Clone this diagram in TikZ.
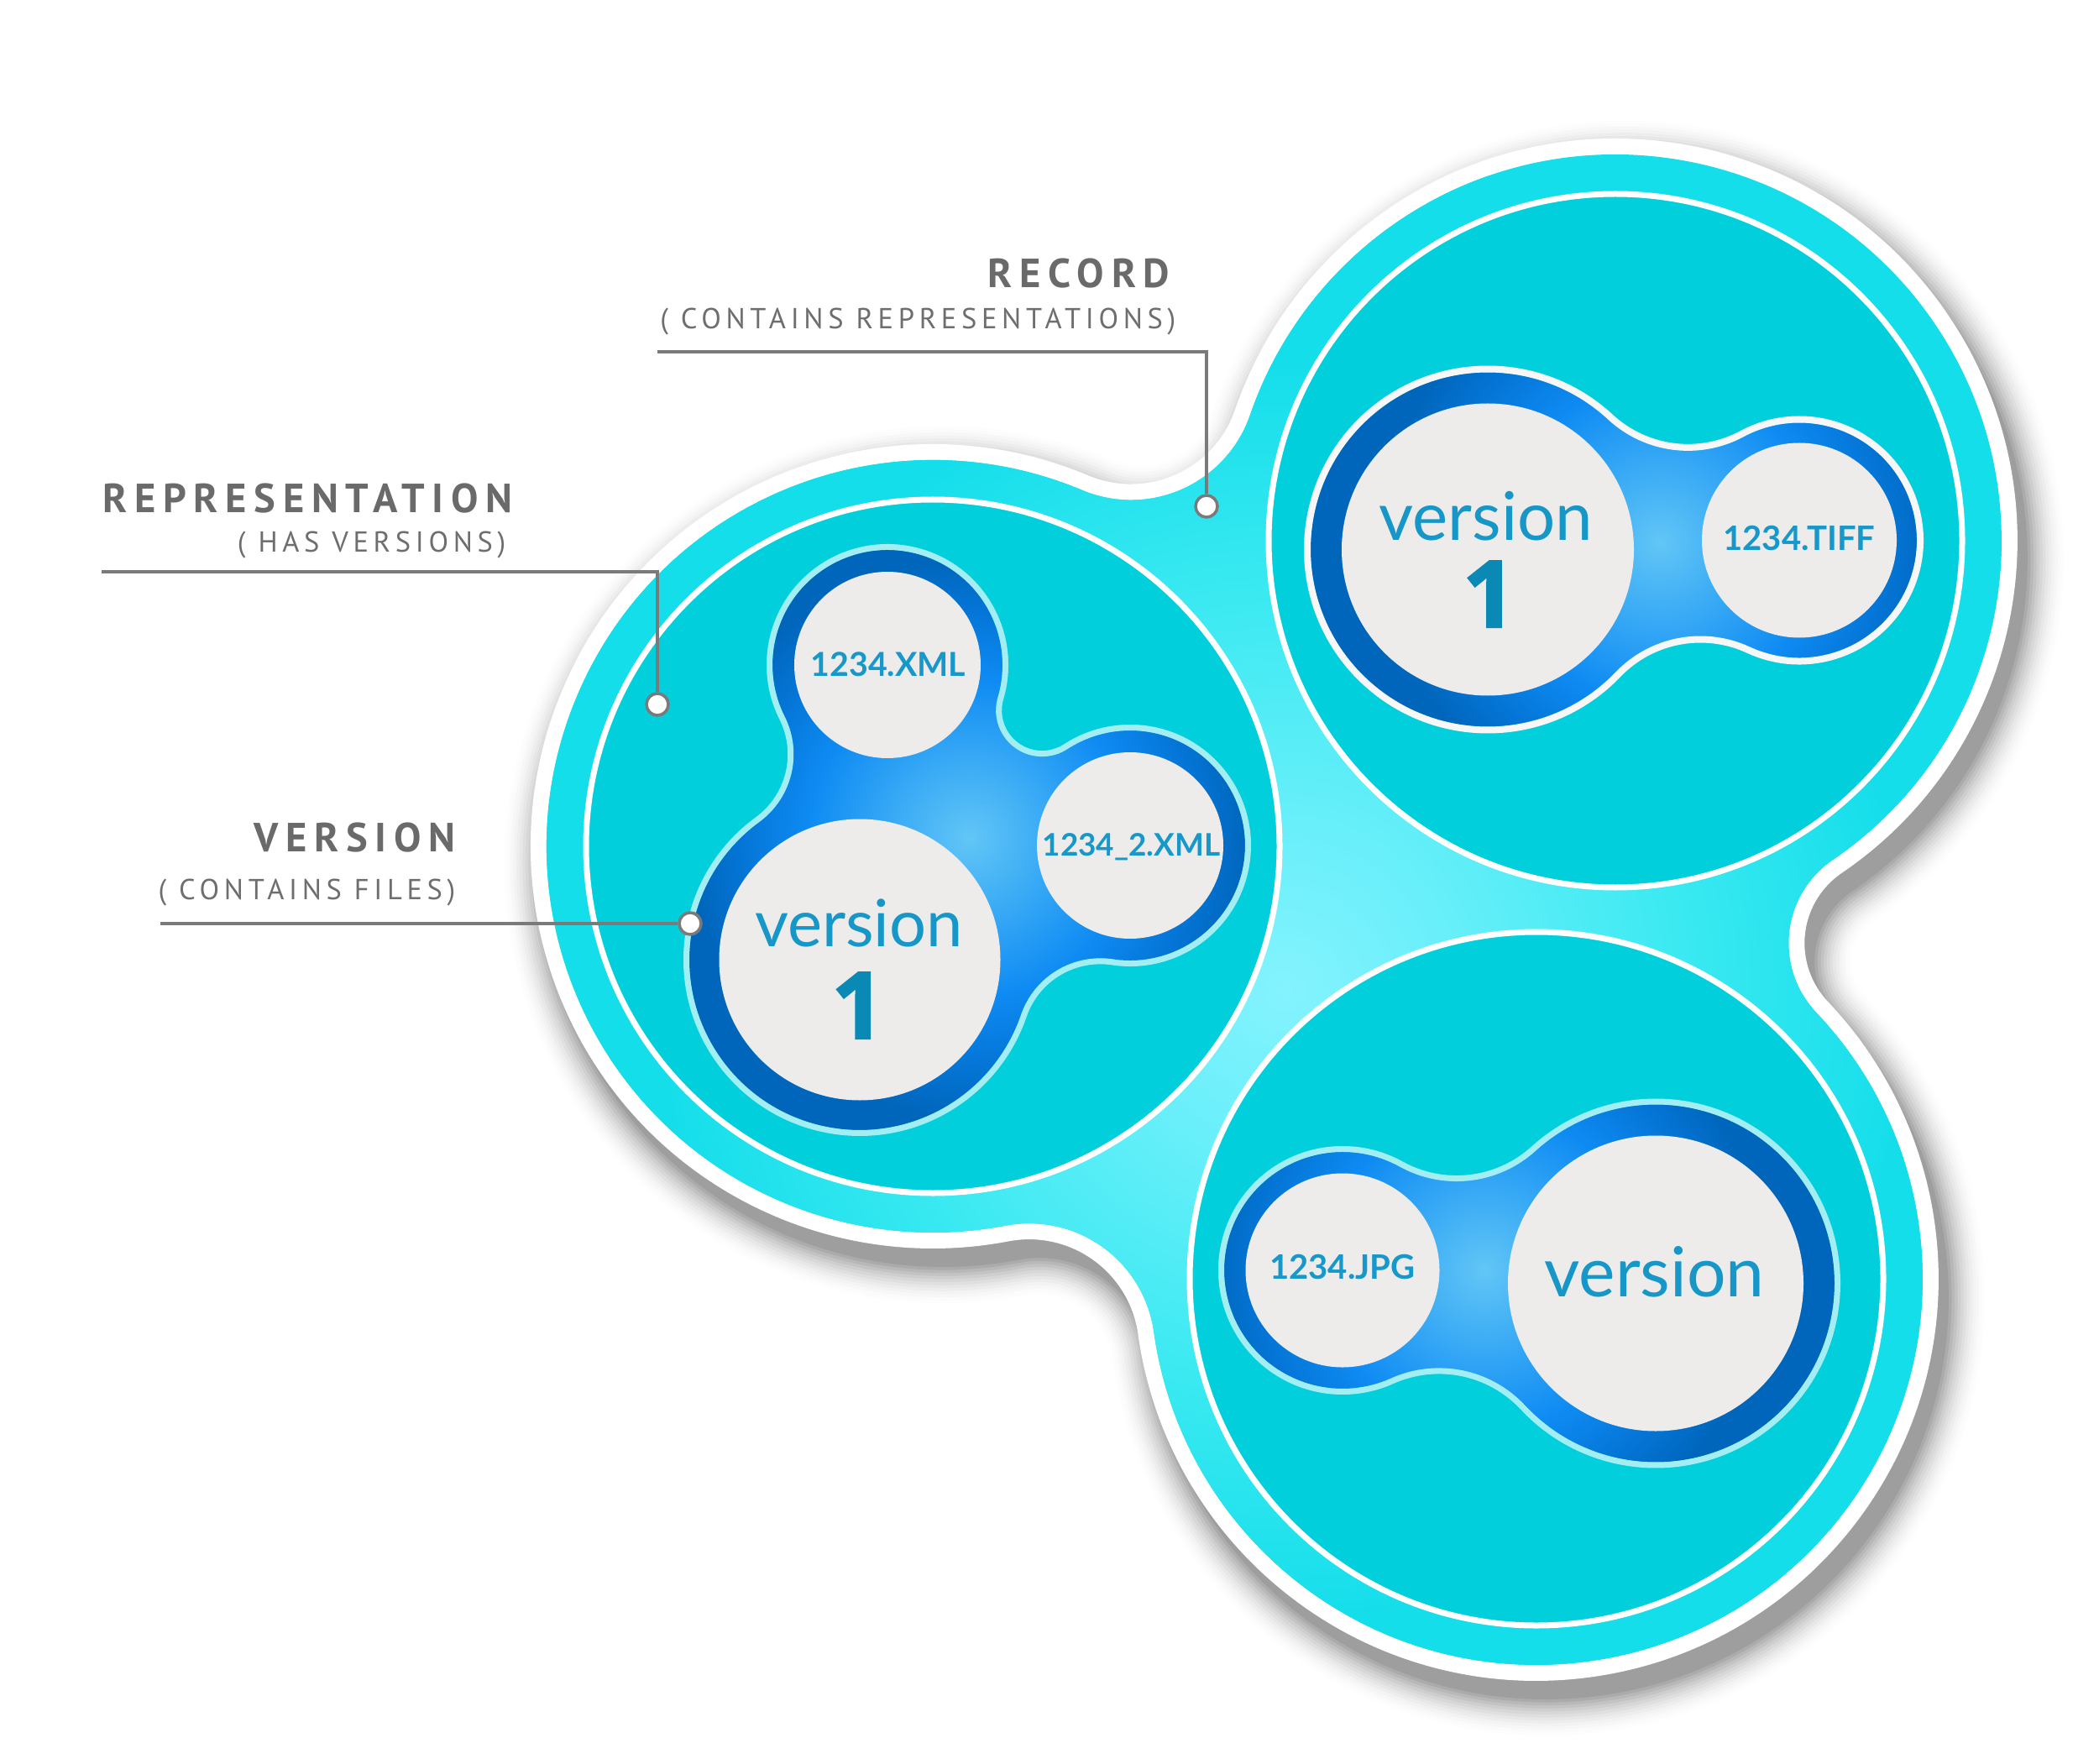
\documentclass[tikz,border=0pt]{standalone}
\usepackage{fontspec}
\newfontfamily\latofont{Lato}
\newfontfamily\onefont[FakeBold=2]{Open Sans}
\newfontfamily\labfont[LetterSpace=16.5]{PT Sans}
\newfontfamily\ttlfont[LetterSpace=18]{PT Sans}

\definecolor{band}{HTML}{14DEEA}
\definecolor{glowA}{HTML}{84F3FE}
\definecolor{glowB}{HTML}{68EFFA}
\definecolor{glowC}{HTML}{3AE9F1}
\definecolor{innerc}{HTML}{02CFDC}
\definecolor{vg0}{HTML}{62C6F6}
\definecolor{vg1}{HTML}{36A8F5}
\definecolor{vg2}{HTML}{0E8BF3}
\definecolor{vg3}{HTML}{0475D6}
\definecolor{vg4}{HTML}{0066BC}
\definecolor{fcirc}{HTML}{EDECEA}
\definecolor{verc}{HTML}{1697C8}
\definecolor{onec}{HTML}{0B89B5}
\definecolor{fnamec}{HTML}{1798CB}
\definecolor{outl}{HTML}{A3EEF3}
\definecolor{outw}{HTML}{F7F7F7}
\definecolor{labc}{HTML}{6A6A6A}
\definecolor{subc}{HTML}{6E6E6E}
\definecolor{linec}{HTML}{7A7A7A}

% natural-size radial shadings (1 cm = 28.35bp)
\pgfdeclareradialshading{bandglow}{\pgfpoint{0bp}{0bp}}{color(0bp)=(glowA); color(57bp)=(glowB); color(136bp)=(glowC); color(213bp)=(band); color(284bp)=(band)}
\pgfdeclareradialshading{vglow}{\pgfpoint{0bp}{0bp}}{color(0bp)=(vg0); color(28bp)=(vg1); color(54bp)=(vg2); color(77bp)=(vg3); color(94bp)=(vg4); color(142bp)=(vg4)}

% ---------- geometry helpers ----------
\newcommand\setpt[3]{\expandafter\xdef\csname pt@#1@x\endcsname{#2}\expandafter\xdef\csname pt@#1@y\endcsname{#3}}
\newcommand\px[1]{\csname pt@#1@x\endcsname}
\newcommand\py[1]{\csname pt@#1@y\endcsname}

\newcommand\mkfillet[6]{% name, circle A, RA, circle B, RB, r  (fillet on right of A->B)
 \edef\qax{\px{#2}}\edef\qay{\py{#2}}\edef\qbx{\px{#4}}\edef\qby{\py{#4}}%
 \pgfmathsetmacro\qdx{\qbx-\qax}%
 \pgfmathsetmacro\qdy{\qby-\qay}%
 \pgfmathsetmacro\qd{veclen(\qdx,\qdy)}%
 \pgfmathsetmacro\qA{#3+#6}%
 \pgfmathsetmacro\qB{#5+#6}%
 \pgfmathsetmacro\qu{(\qd*\qd+\qA*\qA-\qB*\qB)/(2*\qd)}%
 \pgfmathsetmacro\qh{sqrt(\qA*\qA-\qu*\qu)}%
 \pgfmathsetmacro\qfx{\qax+\qu*\qdx/\qd+\qh*\qdy/\qd}%
 \pgfmathsetmacro\qfy{\qay+\qu*\qdy/\qd-\qh*\qdx/\qd}%
 \setpt{#1}{\qfx}{\qfy}}

\newcommand\blobinit[1]{\expandafter\gdef\csname bl@#1\endcsname{}}
\newcommand\blobadd[7]{%
 \expandafter\ifx\csname bl@#1\endcsname\empty
  \expandafter\xdef\csname bl@#1\endcsname{#2/#3/#4/#5/#6/#7}%
  \expandafter\xdef\csname st@#1\endcsname{{#2}{#3}{#4}{#5}{#6}}%
 \else
  \expandafter\xdef\csname bl@#1\endcsname{\csname bl@#1\endcsname,#2/#3/#4/#5/#6/#7}%
 \fi}

\newcommand\addcirc[5]{% blob, circle, R, prev fillet, next fillet
 \edef\qcx{\px{#2}}\edef\qcy{\py{#2}}%
 \edef\qpx{\px{#4}}\edef\qpy{\py{#4}}\edef\qnx{\px{#5}}\edef\qny{\py{#5}}%
 \pgfmathsetmacro\qs{atan2(\qpy-\qcy,\qpx-\qcx)}%
 \pgfmathsetmacro\qe{atan2(\qny-\qcy,\qnx-\qcx)}%
 \pgfmathsetmacro\qe{(\qe<=\qs) ? (\qe+360) : (\qe)}%
 \blobadd{#1}{\qcx}{\qcy}{#3}{1}{\qs}{\qe}}

\newcommand\addfil[5]{% blob, fillet, r, prev circle, next circle
 \edef\qcx{\px{#2}}\edef\qcy{\py{#2}}%
 \edef\qpx{\px{#4}}\edef\qpy{\py{#4}}\edef\qnx{\px{#5}}\edef\qny{\py{#5}}%
 \pgfmathsetmacro\qs{atan2(\qpy-\qcy,\qpx-\qcx)}%
 \pgfmathsetmacro\qe{atan2(\qny-\qcy,\qnx-\qcx)}%
 \pgfmathsetmacro\qe{(\qe>=\qs) ? (\qe-360) : (\qe)}%
 \blobadd{#1}{\qcx}{\qcy}{#3}{-1}{\qs}{\qe}}

\newcommand\getst[5]{\def\stcx{#1}\def\stcy{#2}\def\strr{#3}\def\stsg{#4}\def\stas{#5}}
\newcommand\drawblob[3][]{%
 \def\qdd{#3}%
 \expandafter\let\expandafter\curlist\csname bl@#2\endcsname
 \edef\qtmp{\csname st@#2\endcsname}\expandafter\getst\qtmp
 \path[#1] ({\stcx+(\strr+(\stsg)*\qdd)*cos(\stas)},{\stcy+(\strr+(\stsg)*\qdd)*sin(\stas)})
  \foreach \cx/\cy/\rr/\sg/\as/\ae in \curlist {arc[start angle=\as,end angle=\ae,radius={\rr+(\sg)*\qdd}]} -- cycle;}

% ---------- record blob ----------
\setpt{L}{11.11}{10.92}
\setpt{B}{18.30}{5.77}
\setpt{T}{19.24}{14.56}
\mkfillet{fLB}{L}{4.6}{B}{4.6}{1.5}
\mkfillet{fBT}{B}{4.6}{T}{4.6}{1.2}
\mkfillet{fTL}{T}{4.6}{L}{4.6}{1.5}
\blobinit{rec}
\addcirc{rec}{L}{4.6}{fTL}{fLB}
\addfil{rec}{fLB}{1.5}{L}{B}
\addcirc{rec}{B}{4.6}{fLB}{fBT}
\addfil{rec}{fBT}{1.2}{B}{T}
\addcirc{rec}{T}{4.6}{fBT}{fTL}
\addfil{rec}{fTL}{1.5}{T}{L}

% ---------- top-right version group ----------
\setpt{A1}{17.72}{14.455}
\setpt{A2}{21.43}{14.565}
\mkfillet{fA12}{A1}{2.11}{A2}{1.40}{1.4}
\mkfillet{fA21}{A2}{1.40}{A1}{2.11}{1.4}
\blobinit{gT}
\addcirc{gT}{A1}{2.11}{fA21}{fA12}
\addfil{gT}{fA12}{1.4}{A1}{A2}
\addcirc{gT}{A2}{1.40}{fA12}{fA21}
\addfil{gT}{fA21}{1.4}{A2}{A1}

% ---------- bottom version group ----------
\setpt{C1}{15.99}{5.87}
\setpt{C2}{19.72}{5.715}
\mkfillet{fC12}{C1}{1.41}{C2}{2.13}{1.4}
\mkfillet{fC21}{C2}{2.13}{C1}{1.41}{1.4}
\blobinit{gB}
\addcirc{gB}{C1}{1.41}{fC21}{fC12}
\addfil{gB}{fC12}{1.4}{C1}{C2}
\addcirc{gB}{C2}{2.13}{fC12}{fC21}
\addfil{gB}{fC21}{1.4}{C2}{C1}

% ---------- left version group ----------
\setpt{G1}{10.57}{13.08}
\setpt{G3}{10.24}{9.57}
\setpt{G2}{13.46}{10.93}
\mkfillet{fG13}{G1}{1.37}{G3}{2.03}{1.0}
\mkfillet{fG32}{G3}{2.03}{G2}{1.37}{1.0}
\mkfillet{fG21}{G2}{1.37}{G1}{1.37}{0.55}
\blobinit{gL}
\addcirc{gL}{G1}{1.37}{fG21}{fG13}
\addfil{gL}{fG13}{1.0}{G1}{G3}
\addcirc{gL}{G3}{2.03}{fG13}{fG32}
\addfil{gL}{fG32}{1.0}{G3}{G2}
\addcirc{gL}{G2}{1.37}{fG32}{fG21}
\addfil{gL}{fG21}{0.55}{G2}{G1}

\tikzset{
 vertext/.style={font=\latofont\fontsize{#1}{28}\selectfont, text=verc, inner sep=0, anchor=base},
 onetext/.style={font=\onefont\bfseries\fontsize{31.4}{36}\selectfont, text=onec, inner sep=0, anchor=base},
 fntext/.style={font=\latofont\bfseries\fontsize{#1}{14}\selectfont, text=fnamec, inner sep=0, anchor=base},
 ttl/.style={font=\ttlfont\bfseries\fontsize{13.8}{16}\selectfont, text=labc, inner sep=0},
 subt/.style={font=\labfont\fontsize{9.8}{12}\selectfont, text=subc, inner sep=0},
 dotc/.style={circle, draw=linec, line width=1pt, fill=white, minimum size=0.26cm, inner sep=0},
 lead/.style={draw=linec, line width=0.95pt},
 ringline/.style={draw=white, line width=0.07cm},
 shadenode/.style={inner sep=0, outer sep=0},
}

\begin{document}
\begin{tikzpicture}
\useasboundingbox (0,0) rectangle (25,21);
\fill[white] (0,0) rectangle (25,21);

% drop shadow
\begin{scope}[shift={(0.12,-0.22)}]
 \foreach \k in {14,13,...,0} {
  \pgfmathsetmacro\pp{38*(1-\k/14)^2}
  \pgfmathsetmacro\dk{0.19+0.036*\k}
  \drawblob[fill=black!\pp]{rec}{\dk}
 }
\end{scope}

% white rim and cyan record shape
\drawblob[fill=white]{rec}{0.19}
\drawblob[fill=band]{rec}{0}
\begin{scope}
 \drawblob[clip]{rec}{0}
 \node[shadenode] (glowR) at (15.30,9.20) {\pgfuseshading{bandglow}};
\end{scope}

% representation discs
\foreach \c in {L,B,T} {
 \fill[innerc] (\px{\c},\py{\c}) circle (4.13);
 \draw[ringline] (\px{\c},\py{\c}) circle (4.13);
}

% version groups
\begin{scope}
 \drawblob[clip]{gL}{0}
 \node[shadenode] (glowL) at (11.54,11.02) {\pgfuseshading{vglow}};
\end{scope}
\drawblob[draw=outl, line width=0.07cm]{gL}{0.035}
\begin{scope}
 \drawblob[clip]{gT}{0}
 \node[shadenode] (glowT) at (19.77,14.54) {\pgfuseshading{vglow}};
\end{scope}
\drawblob[draw=outw, line width=0.08cm]{gT}{0.04}
\begin{scope}
 \drawblob[clip]{gB}{0}
 \node[shadenode] (glowB) at (17.68,5.87) {\pgfuseshading{vglow}};
\end{scope}
\drawblob[draw=outl, line width=0.07cm]{gB}{0.035}

% file / version discs
\fill[fcirc] (10.57,13.08) circle (1.11);
\fill[fcirc] (13.46,10.93) circle (1.11);
\fill[fcirc] (10.24,9.57) circle (1.675);
\fill[fcirc] (17.72,14.455) circle (1.74);
\fill[fcirc] (21.43,14.565) circle (1.16);
\fill[fcirc] (15.99,5.87) circle (1.155);
\fill[fcirc] (19.72,5.715) circle (1.76);

% texts
\node[vertext=22.1] (verL) at (10.23,9.73) {version};
\node[onetext] (oneL) at (10.22,8.63) {1};
\node[fntext=11.2] (xmlA) at (10.58,12.944) {1234.XML};
\node[fntext=10.5] (xmlB) at (13.475,10.805) {1234\_2.XML};
\node[vertext=22.7] (verT) at (17.70,14.567) {version};
\node[onetext] (oneT) at (17.737,13.53) {1};
\node[fntext=11.4] (tiff) at (21.43,14.45) {1234.TIFF};
\node[fntext=11.4] (jpg) at (15.99,5.77) {1234.JPG};
\node[vertext=23.4] (verB) at (19.705,5.56) {version};

% labels
\node[ttl, anchor=base east] (recT) at (13.94,17.57) {RECORD};
\node[subt, anchor=base east] (recS) at (14.01,17.08) {( CONTAINS REPRESENTATIONS)};
\node[ttl, anchor=base west] (repT) at (1.215,14.89) {REPRESENTATION};
\node[subt, anchor=base east] (repS) at (6.03,14.43) {( HAS VERSIONS)};
\node[ttl, anchor=base east] (verLab) at (5.43,10.86) {VERSION};
\node[subt, anchor=base east] (verS) at (5.43,10.29) {( CONTAINS FILES)};

% leaders
\node[dotc] (recD) at (14.37,14.97) {};
\coordinate (recA) at (7.83,16.81);
\draw[lead] (recA) -- (recA -| recD) -- (recD);
\node[dotc] (repD) at (7.83,12.61) {};
\coordinate (repA) at (1.21,14.19);
\draw[lead] (repA) -- (repA -| repD) -- (repD);
\node[dotc] (verD) at (8.22,10.00) {};
\coordinate (verA) at (1.91,10.00);
\draw[lead] (verA) -- (verD);
\end{tikzpicture}
\end{document}
